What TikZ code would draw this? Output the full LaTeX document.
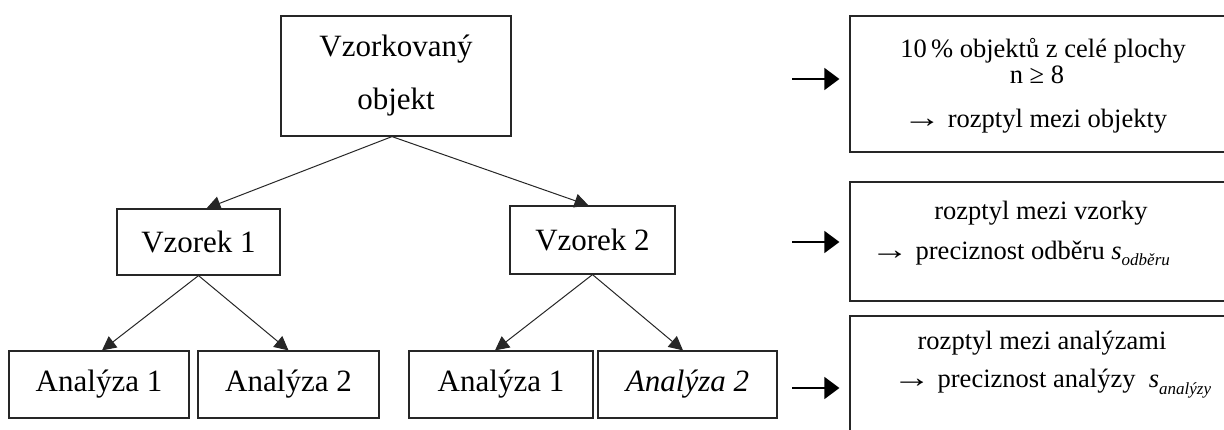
\documentclass[tikz,border=0pt]{standalone}
\usepackage{fontspec}
\setmainfont{Liberation Serif}
\usetikzlibrary{arrows.meta}

\newcommand{\longto}{\scalebox{1.45}[1.1]{→}}

\begin{document}
\begin{tikzpicture}[x=1pt,y=-1pt,
  line width=1.2pt,
  box/.style={draw=black!85, rectangle, inner sep=0pt, align=center,
              font=\fontsize{31}{53}\selectfont},
  sidebox/.style={draw=black!85, rectangle, inner sep=0pt},
  sidetext/.style={inner sep=0pt, anchor=base, font=\fontsize{26.5}{30}\selectfont},
  treearrow/.style={draw=black!85, line width=1pt, -{Triangle[length=14pt,width=14pt]}},
  sidearrow/.style={draw=black, line width=1.3pt, -{Triangle[length=15pt,width=22pt]}},
]
\useasboundingbox (0,0) rectangle (1224,430);
\clip (0,0) rectangle (1224,430);

% tree of the sampled object
\node[box, minimum width=230pt, minimum height=120pt] (obj) at (396,76) {Vzorkovaný\\objekt};
\node[box, minimum width=163pt, minimum height=66pt] (v1) at (198.5,242) {Vzorek 1};
\node[box, minimum width=165pt, minimum height=68pt] (v2) at (592.5,240) {Vzorek 2};
\node[box, minimum width=180pt, minimum height=67pt] (a11) at (99,384.5) {Analýza 1};
\node[box, minimum width=181pt, minimum height=67pt] (a12) at (288.5,384.5) {Analýza 2};
\node[box, minimum width=184pt, minimum height=67pt] (a21) at (501,384.5) {Analýza 1};
\node[box, minimum width=179pt, minimum height=67pt] (a22) at (687.5,384.5) {\itshape Analýza 2};

\draw[treearrow] ([xshift=-4pt]obj.south) -- ([xshift=8pt]v1.north);
\draw[treearrow] ([xshift=-4pt]obj.south) -- ([xshift=-4pt]v2.north);
\draw[treearrow] (v1.south) -- ([xshift=3pt]a11.north);
\draw[treearrow] (v1.south) -- (a12.north);
\draw[treearrow] (v2.south) -- ([xshift=-6pt]a21.north);
\draw[treearrow] (v2.south) -- ([xshift=-4.5pt]a22.north);

% variance boxes on the right
\node[sidebox, minimum width=400pt, minimum height=136pt] (r1) at (1050,84) {};
\node[sidebox, minimum width=400pt, minimum height=119pt] (r2) at (1050,241.5) {};
\node[sidebox, minimum width=400pt, minimum height=140pt] (r3) at (1050,386) {};

\node[sidetext, text depth=1pt] (r1a) at (1043,58) {10\,\% objektů z celé plochy};
\node[sidetext, text height=15pt] (r1b) at (1037,84) {n ≥ 8};
\node[sidetext] (r1c) at (1035,128) {\longto\ rozptyl mezi objekty};

\node[sidetext] (r2a) at (1041,220) {rozptyl mezi vzorky};
\node[sidetext, anchor=base west] (r2b) at (870,260)
  {\longto\ preciznost odběru {\itshape s\raisebox{-6pt}{\fontsize{17}{17}\selectfont odběru}}};

\node[sidetext] (r3a) at (1042,350) {rozptyl mezi analýzami};
\node[sidetext, anchor=base west] (r3b) at (892,388)
  {\longto\ preciznost analýzy\ \ {\itshape s\raisebox{-6pt}{\fontsize{17}{17}\selectfont analýzy}}};

\coordinate (s1) at (792,79);
\coordinate (s2) at (792,242);
\coordinate (s3) at (792,388);
\draw[sidearrow, shorten >=10pt] (s1) -- (s1 -| r1.west);
\draw[sidearrow, shorten >=10pt] (s2) -- (s2 -| r2.west);
\draw[sidearrow, shorten >=10pt] (s3) -- (s3 -| r3.west);
\end{tikzpicture}
\end{document}
